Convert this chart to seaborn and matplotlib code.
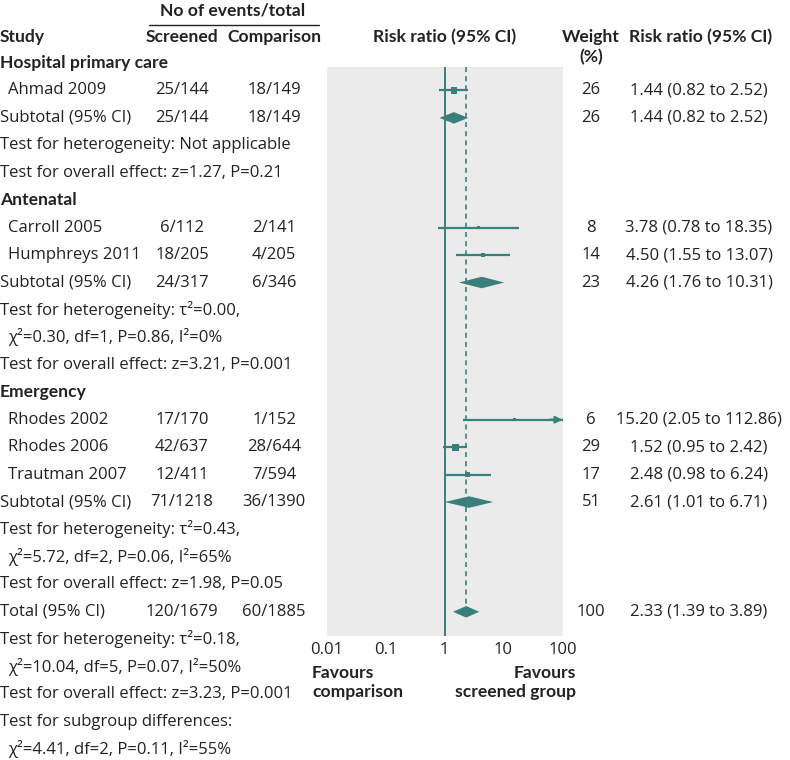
import matplotlib
matplotlib.use("Agg")
import matplotlib.pyplot as plt
import matplotlib.transforms as mtransforms
import seaborn as sns
import numpy as np
import pandas as pd

# ---------------- data ----------------
studies = ["Ahmad 2009", "Carroll 2005", "Humphreys 2011", "Rhodes 2002", "Rhodes 2006", "Trautman 2007"]
study_rows = [1, 6, 7, 13, 14, 15]
screened = ["25/144", "6/112", "18/205", "17/170", "42/637", "12/411"]
comparison = ["18/149", "2/141", "4/205", "1/152", "28/644", "7/594"]
rr = [1.44, 3.78, 4.50, 15.20, 1.52, 2.48]
rr_lo = [0.82, 0.78, 1.55, 2.05, 0.95, 0.98]
rr_hi = [2.52, 18.35, 13.07, 112.86, 2.42, 6.24]
weights = [26, 8, 14, 6, 29, 17]

pooled_labels = ["Subtotal (95% CI)", "Subtotal (95% CI)", "Subtotal (95% CI)", "Total (95% CI)"]
pooled_rows = [2, 8, 16, 20]
pooled_screened = ["25/144", "24/317", "71/1218", "120/1679"]
pooled_comparison = ["18/149", "6/346", "36/1390", "60/1885"]
pooled_rr = [1.44, 4.26, 2.61, 2.33]
pooled_lo = [0.82, 1.76, 1.01, 1.39]
pooled_hi = [2.52, 10.31, 6.71, 3.89]
pooled_w = [26, 23, 51, 100]

groups = ["Hospital primary care", "Antenatal", "Emergency"]
group_rows = [0, 5, 12]

notes = [
    (3, "Test for heterogeneity: Not applicable", 0),
    (4, "Test for overall effect: z=1.27, P=0.21", 0),
    (9, "Test for heterogeneity: τ²=0.00,", 0),
    (10, "χ²=0.30, df=1, P=0.86, I²=0%", 1),
    (11, "Test for overall effect: z=3.21, P=0.001", 0),
    (17, "Test for heterogeneity: τ²=0.43,", 0),
    (18, "χ²=5.72, df=2, P=0.06, I²=65%", 1),
    (19, "Test for overall effect: z=1.98, P=0.05", 0),
    (21, "Test for heterogeneity: τ²=0.18,", 0),
    (22, "χ²=10.04, df=5, P=0.07, I²=50%", 1),
    (23, "Test for overall effect: z=3.23, P=0.001", 0),
    (24, "Test for subgroup differences:", 0),
    (25, "χ²=4.41, df=2, P=0.11, I²=55%", 1),
]

xticks = [0.01, 0.1, 1, 10, 100]
xticklabels = ["0.01", "0.1", "1", "10", "100"]

# ---------------- style ----------------
sns.set_theme(style="white")
FONT = "Open Sans"
BFONT = "Lato"
plt.rcParams["font.family"] = [FONT, "DejaVu Sans"]
TEAL = "#3b7f7d"
GRAY = "#ebebeb"
TXT = "#222222"
FS = 12.0
FSB = 12.6

W, H = 790, 760
fig = plt.figure(figsize=(W / 100, H / 100), dpi=100)

ROW0, STEP = 63.0, 27.44
ax_top_px, ax_bot_px = 67.0, 636.0
ax_left_px, ax_right_px = 326.5, 562.5
ax = fig.add_axes([ax_left_px / W, 1 - ax_bot_px / H,
                   (ax_right_px - ax_left_px) / W, (ax_bot_px - ax_top_px) / H])
ax.set_facecolor(GRAY)
for s in ax.spines.values():
    s.set_visible(False)
ax.set_xscale("log")
ax.set_xlim(0.01, 100)
ax.set_ylim((ax_bot_px - ROW0) / STEP, (ax_top_px - ROW0) / STEP)
ax.set_yticks([])
ax.set_xticks(xticks)
ax.set_xticklabels(xticklabels, fontsize=FS, color=TXT)
ax.xaxis.set_minor_locator(matplotlib.ticker.NullLocator())
ax.tick_params(axis="x", direction="in", length=5, width=1.5, color="white", pad=4)

# reference lines
ax.axvline(1, color=TEAL, lw=1.4, zorder=2)
ax.vlines(pooled_rr[-1], (ax_top_px - ROW0) / STEP, pooled_rows[-1], color=TEAL,
          lw=1.2, linestyles=(0, (3, 2.5)), zorder=2)

# study CIs
for r, lo, hi in zip(study_rows, rr_lo, rr_hi):
    if hi > 100:
        ax.hlines(r, lo, 100, color=TEAL, lw=1.6, zorder=3)
        ax.annotate("", xy=(100, r), xytext=(60, r),
                    arrowprops=dict(arrowstyle="-|>", color=TEAL, lw=1.6,
                                    mutation_scale=10, shrinkA=0, shrinkB=0),
                    zorder=3)
    else:
        ax.hlines(r, lo, hi, color=TEAL, lw=1.6, zorder=3)

df = pd.DataFrame({"rr": rr, "row": study_rows, "w": weights})
df["size"] = (1.25 * np.sqrt(df["w"]) * 0.72) ** 2
sns.scatterplot(data=df, x="rr", y="row", size="size", sizes=(df["size"].min(), df["size"].max()),
                marker="s", color=TEAL, edgecolor=TEAL, linewidth=0, legend=False, ax=ax, zorder=4)

# diamonds
for r, est, lo, hi in zip(pooled_rows, pooled_rr, pooled_lo, pooled_hi):
    h = 0.21
    ax.fill([lo, est, hi, est], [r, r - h, r, r + h], color=TEAL, lw=0, zorder=4)

ax.set_xlabel("")
ax.set_ylabel("")

# ---------------- text ----------------
tr = mtransforms.blended_transform_factory(fig.transFigure, ax.transData)

def T(xpx, row, s, ha="left", bold=False):
    if bold:
        fig.text(xpx / W, row, s, transform=tr, ha=ha, va="center",
                 fontsize=FSB, family=[BFONT, FONT, "DejaVu Sans"],
                 color=TXT, fontweight="bold", clip_on=False)
    else:
        fig.text(xpx / W, row, s, transform=tr, ha=ha, va="center",
                 fontsize=FS, color=TXT, clip_on=False)

def rowpx(ypx):
    return (ypx - ROW0) / STEP

# headers
T(233, rowpx(11), "No of events/total", ha="center", bold=True)
fig.add_artist(matplotlib.lines.Line2D([149 / W, 319 / W], [1 - 24.5 / H, 1 - 24.5 / H],
                                       color=TXT, lw=1.0))
T(0, rowpx(37), "Study", bold=True)
T(182, rowpx(37), "Screened", ha="center", bold=True)
T(274, rowpx(37), "Comparison", ha="center", bold=True)
T(445, rowpx(37), "Risk ratio (95% CI)", ha="center", bold=True)
T(591, rowpx(37), "Weight", ha="center", bold=True)
T(591, rowpx(57), "(%)", ha="center", bold=True)
T(701, rowpx(37), "Risk ratio (95% CI)", ha="center", bold=True)

for g, r in zip(groups, group_rows):
    T(0, r, g, bold=True)

def fmt(v):
    return f"{v:.2f}"

for name, r, s, c, w, e, lo, hi in zip(studies, study_rows, screened, comparison, weights, rr, rr_lo, rr_hi):
    T(8, r, name)
    T(182, r, s, ha="center")
    T(274, r, c, ha="center")
    T(591, r, str(w), ha="center")
    T(699, r, f"{fmt(e)} ({fmt(lo)} to {fmt(hi)})", ha="center")

for name, r, s, c, w, e, lo, hi in zip(pooled_labels, pooled_rows, pooled_screened, pooled_comparison,
                                       pooled_w, pooled_rr, pooled_lo, pooled_hi):
    T(0, r, name)
    T(182, r, s, ha="center")
    T(274, r, c, ha="center")
    T(591, r, str(w), ha="center")
    T(699, r, f"{fmt(e)} ({fmt(lo)} to {fmt(hi)})", ha="center")

for r, s, ind in notes:
    T(8 if ind else 0, r, s)

T(312, rowpx(673), "Favours", bold=True)
T(312, rowpx(692), "comparison", bold=True)
T(576, rowpx(673), "Favours", ha="right", bold=True)
T(576, rowpx(692), "screened group", ha="right", bold=True)

fig.savefig("out.png", dpi=100, facecolor="white")
